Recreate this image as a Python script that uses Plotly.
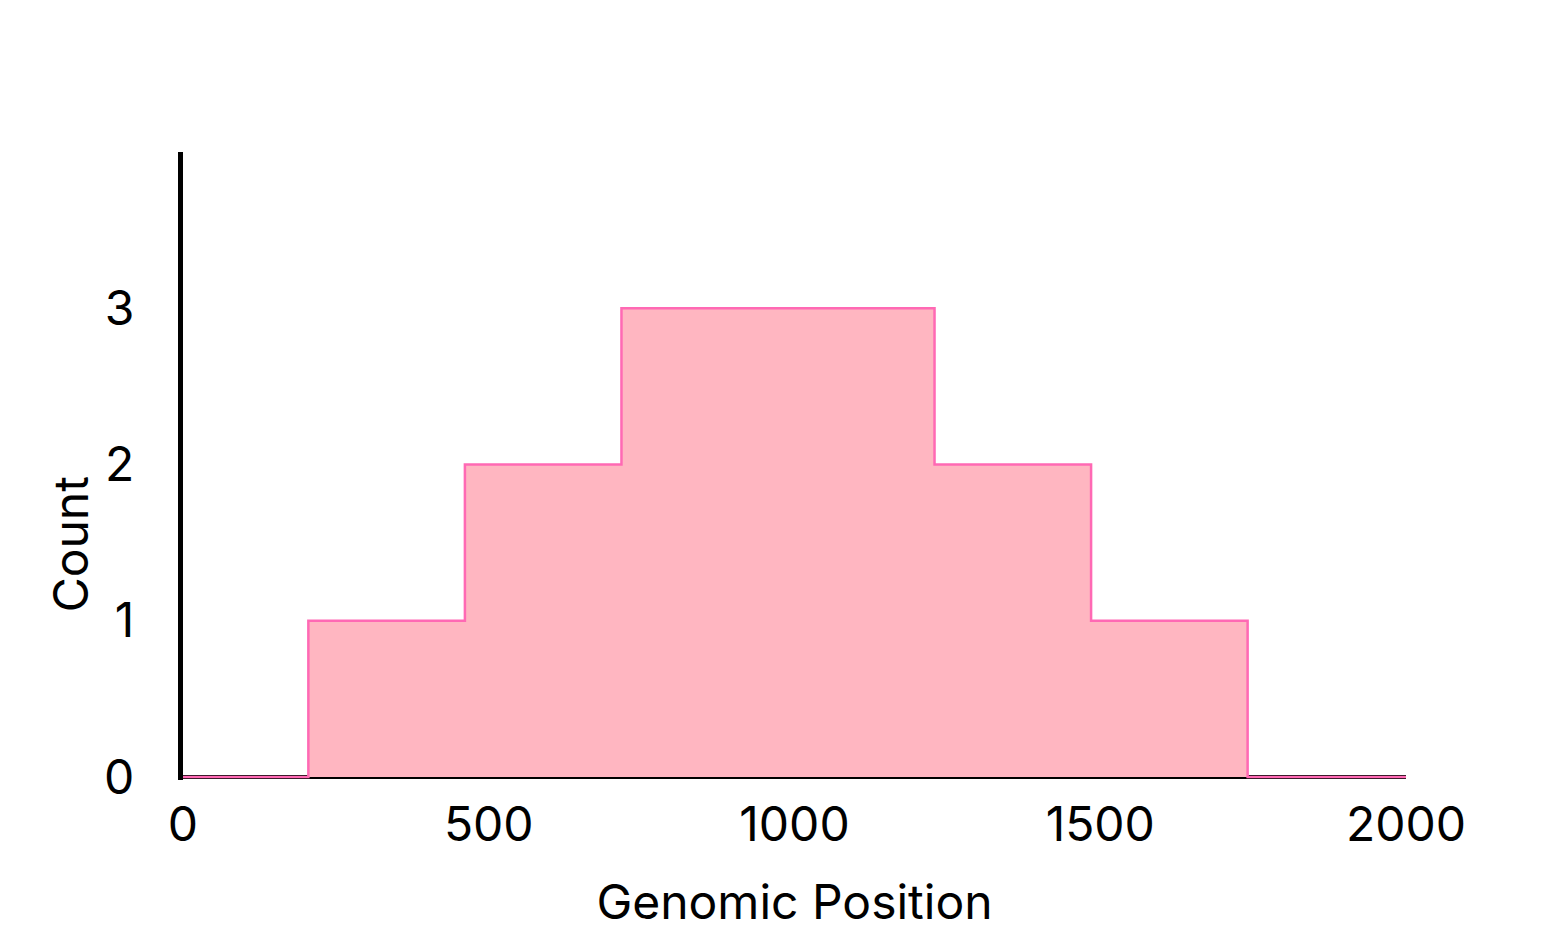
import plotly.graph_objects as go

bin_edges = [0, 205, 461, 717, 973, 1229, 1485, 1741, 2000]
counts = [0, 1, 2, 3, 3, 2, 1, 0]
x_ticks = [0, 500, 1000, 1500, 2000]
y_ticks = [0, 1, 2, 3]

xs = bin_edges
ys = counts + [counts[-1]]

FONT = "Inter"
FS = 48

fig = go.Figure()
fig.add_trace(go.Scatter(
    x=xs, y=ys, mode="lines", line_shape="hv",
    line=dict(color="#FF69B4", width=2.5),
    fill="tozeroy", fillcolor="#FFB6C1",
    showlegend=False, hoverinfo="skip",
))

fig.update_layout(
    width=1558, height=932,
    paper_bgcolor="white", plot_bgcolor="white",
    margin=dict(l=175, r=160, t=144, b=160),
    font=dict(family=FONT, size=FS, color="black"),
    xaxis=dict(
        range=[0, 2000], tickvals=x_ticks, ticks="", showgrid=False,
        zeroline=False, showline=False,
        tickfont=dict(size=FS), ticklabelstandoff=12,
        title=dict(text="Genomic Position", font=dict(size=FS), standoff=33),
    ),
    yaxis=dict(
        range=[-0.02, 4], tickvals=y_ticks, ticks="", showgrid=False,
        zeroline=True, zerolinecolor="black", zerolinewidth=4,
        showline=True, linecolor="black", linewidth=5, layer="below traces",
        tickfont=dict(size=FS), ticklabelstandoff=34,
    ),
    annotations=[dict(
        text="Count", xref="paper", yref="paper", x=-0.092, y=0.376,
        xanchor="center", yanchor="middle", textangle=-90, showarrow=False,
        font=dict(size=FS, family=FONT, color="black"),
    )],
)

fig.write_html("out.html")
